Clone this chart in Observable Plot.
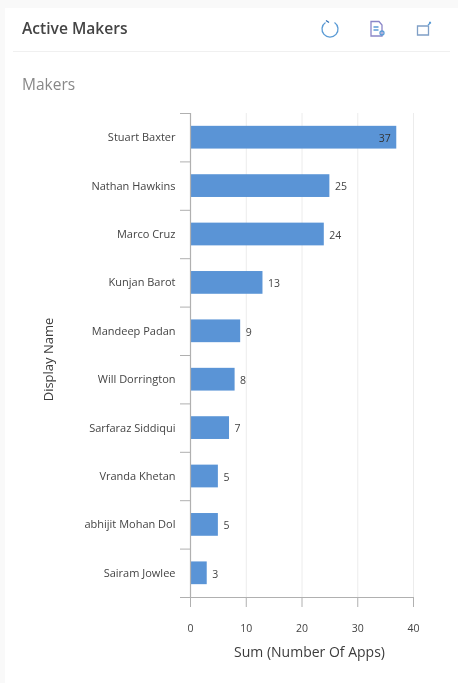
<!DOCTYPE html>
<html><head><meta charset="utf-8">
<script src="https://cdn.jsdelivr.net/npm/d3@7"></script>
<script src="https://cdn.jsdelivr.net/npm/@observablehq/plot@0.6"></script>
<style>
html,body{margin:0;padding:0;background:#f9f9f9;width:458px;height:683px;overflow:hidden;font-family:"Open Sans",sans-serif}
#card{position:absolute;left:5px;top:8px;width:453px;height:675px;background:#fff}
#title{position:absolute;left:22px;top:18px;font-size:15.6px;font-weight:600;color:#444;line-height:21px}
#rule{position:absolute;left:13px;top:51px;width:437px;height:1px;background:#f0f0f0}
#sub{position:absolute;left:22px;top:74px;font-size:15.5px;color:#888;line-height:20px}
#icons{position:absolute;left:0;top:0}
#chart{position:absolute;left:0;top:100px}
#card,#title,#sub,#icons,#chart{filter:blur(.3px)}
svg{display:block}
</style></head><body>
<div id="card"></div>
<div id="title">Active Makers</div>
<div id="rule"></div>
<div id="sub">Makers</div>
<svg id="icons" width="458" height="50" fill="none" stroke-width="1.3">
  <path d="M325.500 22.500a8 8 0 1 0 9 0" stroke="#5b9bd5"/><path d="M326 20.500l3 2" stroke="#2f6fb5"/>
  <path d="M371 21.500h8l3 3.500v11h-11z" stroke="#8a86c8"/><path d="M373.500 27h5M373.500 30h5" stroke="#5b9bd5"/><circle cx="382" cy="33" r="2" stroke="#5b9bd5"/>
  <path d="M417.500 26h11v9h-11z" stroke="#7f9fc6"/><path d="M428 25l3-2.500M431 22.500h-2" stroke="#5b9bd5"/>
</svg>
<div id="chart"></div>
<script>
const names = ["Stuart Baxter","Nathan Hawkins","Marco Cruz","Kunjan Barot","Mandeep Padan","Will Dorrington","Sarfaraz Siddiqui","Vranda Khetan","abhijit Mohan Dol","Sairam Jowlee"];
const apps = [37,25,24,13,9,8,7,5,5,3];
const xTicks = [0,10,20,30,40];
const xTitle = "Sum (Number Of Apps)", yTitle = "Display Name";
const rows = names.map((name,i)=>({name,value:apps[i]}));
const halfBand = 24.2, axisColor = "#b0b0b0", textColor = "#444";
const plot = Plot.plot({
  width:458, height:583,
  marginTop:13, marginBottom:86, marginLeft:190, marginRight:45,
  style:{fontFamily:"'Open Sans',sans-serif",background:"transparent",color:textColor},
  x:{domain:[0,40]},
  y:{domain:names,round:false,paddingInner:0.53,paddingOuter:0.265,align:0.5},
  marks:[
    Plot.gridX(xTicks,{stroke:"#ececec",strokeOpacity:1}),
    Plot.barX(rows,{x:"value",y:"name",fill:"#5a94d6"}),
    Plot.ruleX([0],{stroke:axisColor,strokeWidth:1.2}),
    Plot.ruleY([names[names.length-1]],{x1:0,x2:40,dy:halfBand,stroke:axisColor,strokeWidth:1.2}),
    Plot.axisY({anchor:"left",tickSize:10,stroke:axisColor,dy:-halfBand,text:null,label:null}),
    Plot.axisY({anchor:"left",ticks:[names[names.length-1]],tickSize:10,stroke:axisColor,dy:halfBand,text:null,label:null}),
    Plot.axisY({anchor:"left",tickSize:0,tickPadding:15,fontSize:11,fill:textColor,label:null}),
    Plot.axisX({ticks:xTicks,tickSize:10,stroke:axisColor,tickPadding:17,fontSize:10.5,fill:textColor,label:null}),
    Plot.text([yTitle],{frameAnchor:"left",textAnchor:"middle",rotate:-90,dx:-142,dy:4,fontSize:13,fontWeight:500,fill:"#3c3c3c"}),
    Plot.text([xTitle],{frameAnchor:"bottom",dx:7.500,dy:59,fontSize:14,fontWeight:500,fill:"#3c3c3c"}),
    Plot.text(rows.filter(d=>d.value<37),{x:"value",y:"name",text:d=>String(d.value),dx:5,dy:1,textAnchor:"start",fontSize:10.5,fill:textColor}),
    Plot.text(rows.filter(d=>d.value>=37),{x:"value",y:"name",text:d=>String(d.value),dx:-6,dy:1,textAnchor:"end",fontSize:10.5,fill:"#333"})
  ]
});
document.getElementById("chart").appendChild(plot);
</script>
</body></html>
